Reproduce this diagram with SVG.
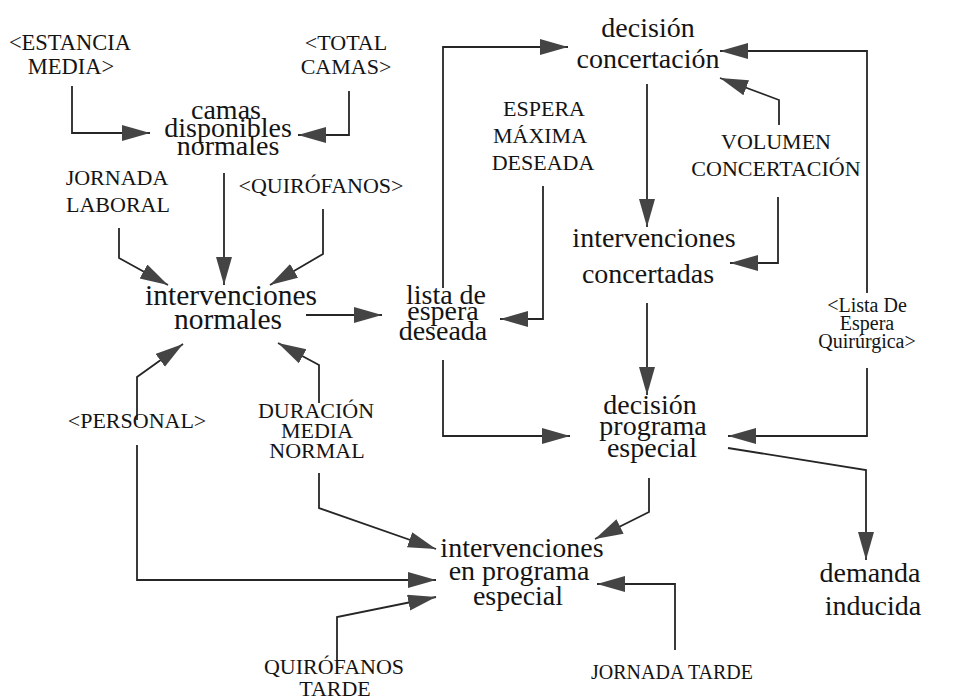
<svg xmlns="http://www.w3.org/2000/svg" width="969" height="700" viewBox="0 0 969 700">
  <style>
    text { font-family: "Liberation Serif", "Times New Roman", serif; fill: #141414; text-anchor: middle; }
    .aux { font-size: 22px; }
    .aux-s { font-size: 20px; }
    .node { font-size: 28px; }
    .link { fill: none; stroke: #262626; stroke-width: 1.8; marker-end: url(#head); }
  </style>
  <defs>
    <marker id="head" markerUnits="userSpaceOnUse" markerWidth="30" markerHeight="17" refX="28" refY="8" orient="auto">
      <path d="M0,0 L28,8 L0,16 Z" fill="#444444"/>
    </marker>
  </defs>
  <rect width="969" height="700" fill="#ffffff"/>

  <g id="connectors">
    <path class="link" d="M72,86 V133 H150"/>
    <path class="link" d="M349,91 V135 H298"/>
    <path class="link" d="M224,173 V285"/>
    <path class="link" d="M119,228 V258 L168,285"/>
    <path class="link" d="M323,209 V254 L270,285"/>
    <path class="link" d="M306,315 H382"/>
    <path class="link" d="M543,186 V319 H500"/>
    <path class="link" d="M443,288 V47 H568"/>
    <path class="link" d="M867,293 V51 H720"/>
    <path class="link" d="M779,125 V100 L720,78"/>
    <path class="link" d="M778,197 V263 H730"/>
    <path class="link" d="M647,84 V227"/>
    <path class="link" d="M647,303 V395"/>
    <path class="link" d="M443,360 V436 H570"/>
    <path class="link" d="M867,368 V436 H728"/>
    <path class="link" d="M728,448 L866,470 V560"/>
    <path class="link" d="M649,478 V512 L595,539"/>
    <path class="link" d="M675,650 V584 H597"/>
    <path class="link" d="M137,420 V377 L183,344"/>
    <path class="link" d="M137,445 V580 H436"/>
    <path class="link" d="M319,403 V365 L278,343"/>
    <path class="link" d="M319,473 V508 L436,549"/>
    <path class="link" d="M337,660 V617 L436,597"/>
  </g>

  <g id="estancia-media">
    <text class="aux" x="70" y="50" style="font-size:22.5px">&lt;ESTANCIA</text>
    <text class="aux" x="71" y="74" style="font-size:22.5px">MEDIA&gt;</text>
  </g>
  <g id="total-camas">
    <text class="aux" x="346" y="50">&lt;TOTAL</text>
    <text class="aux" x="346" y="74">CAMAS&gt;</text>
  </g>
  <g id="camas-disponibles">
    <text class="node" x="226" y="119">camas</text>
    <text class="node" x="228" y="137">disponibles</text>
    <text class="node" x="228" y="155">normales</text>
  </g>
  <g id="jornada-laboral">
    <text class="aux" x="117" y="185">JORNADA</text>
    <text class="aux" x="118" y="212">LABORAL</text>
  </g>
  <g id="quirofanos">
    <text class="aux" x="321" y="193">&lt;QUIRÓFANOS&gt;</text>
  </g>
  <g id="intervenciones-normales">
    <text class="node" x="231" y="305" style="font-size:29.5px">intervenciones</text>
    <text class="node" x="228" y="329" style="font-size:29.5px">normales</text>
  </g>
  <g id="lista-espera-deseada">
    <text class="node" x="446" y="304">lista de</text>
    <text class="node" x="443" y="320">espera</text>
    <text class="node" x="443" y="340">deseada</text>
  </g>
  <g id="espera-maxima">
    <text class="aux" x="544" y="116">ESPERA</text>
    <text class="aux" x="540" y="143">MÁXIMA</text>
    <text class="aux" x="543" y="170">DESEADA</text>
  </g>
  <g id="decision-concertacion">
    <text class="node" x="648" y="37">decisión</text>
    <text class="node" x="648" y="68">concertación</text>
  </g>
  <g id="volumen-concertacion">
    <text class="aux" x="776" y="149">VOLUMEN</text>
    <text class="aux" x="776" y="176">CONCERTACIÓN</text>
  </g>
  <g id="intervenciones-concertadas">
    <text class="node" x="654" y="247">intervenciones</text>
    <text class="node" x="648" y="283">concertadas</text>
  </g>
  <g id="lista-espera-quirurgica">
    <text class="aux-s" x="867" y="312">&lt;Lista De</text>
    <text class="aux-s" x="867" y="330">Espera</text>
    <text class="aux-s" x="867" y="348">Quirúrgica&gt;</text>
  </g>
  <g id="decision-programa">
    <text class="node" x="650" y="414">decisión</text>
    <text class="node" x="653" y="435">programa</text>
    <text class="node" x="652" y="457">especial</text>
  </g>
  <g id="demanda-inducida">
    <text class="node" x="870" y="582">demanda</text>
    <text class="node" x="873" y="615">inducida</text>
  </g>
  <g id="personal">
    <text class="aux" x="137" y="428">&lt;PERSONAL&gt;</text>
  </g>
  <g id="duracion-media">
    <text class="aux" x="316" y="418">DURACIÓN</text>
    <text class="aux" x="317" y="438">MEDIA</text>
    <text class="aux" x="317" y="458">NORMAL</text>
  </g>
  <g id="intervenciones-programa">
    <text class="node" x="522" y="557">intervenciones</text>
    <text class="node" x="519" y="580">en programa</text>
    <text class="node" x="518" y="605">especial</text>
  </g>
  <g id="quirofanos-tarde">
    <text class="aux" x="334" y="674">QUIRÓFANOS</text>
    <text class="aux" x="335" y="696">TARDE</text>
  </g>
  <g id="jornada-tarde">
    <text class="aux-s" x="672" y="679">JORNADA TARDE</text>
  </g>
</svg>
